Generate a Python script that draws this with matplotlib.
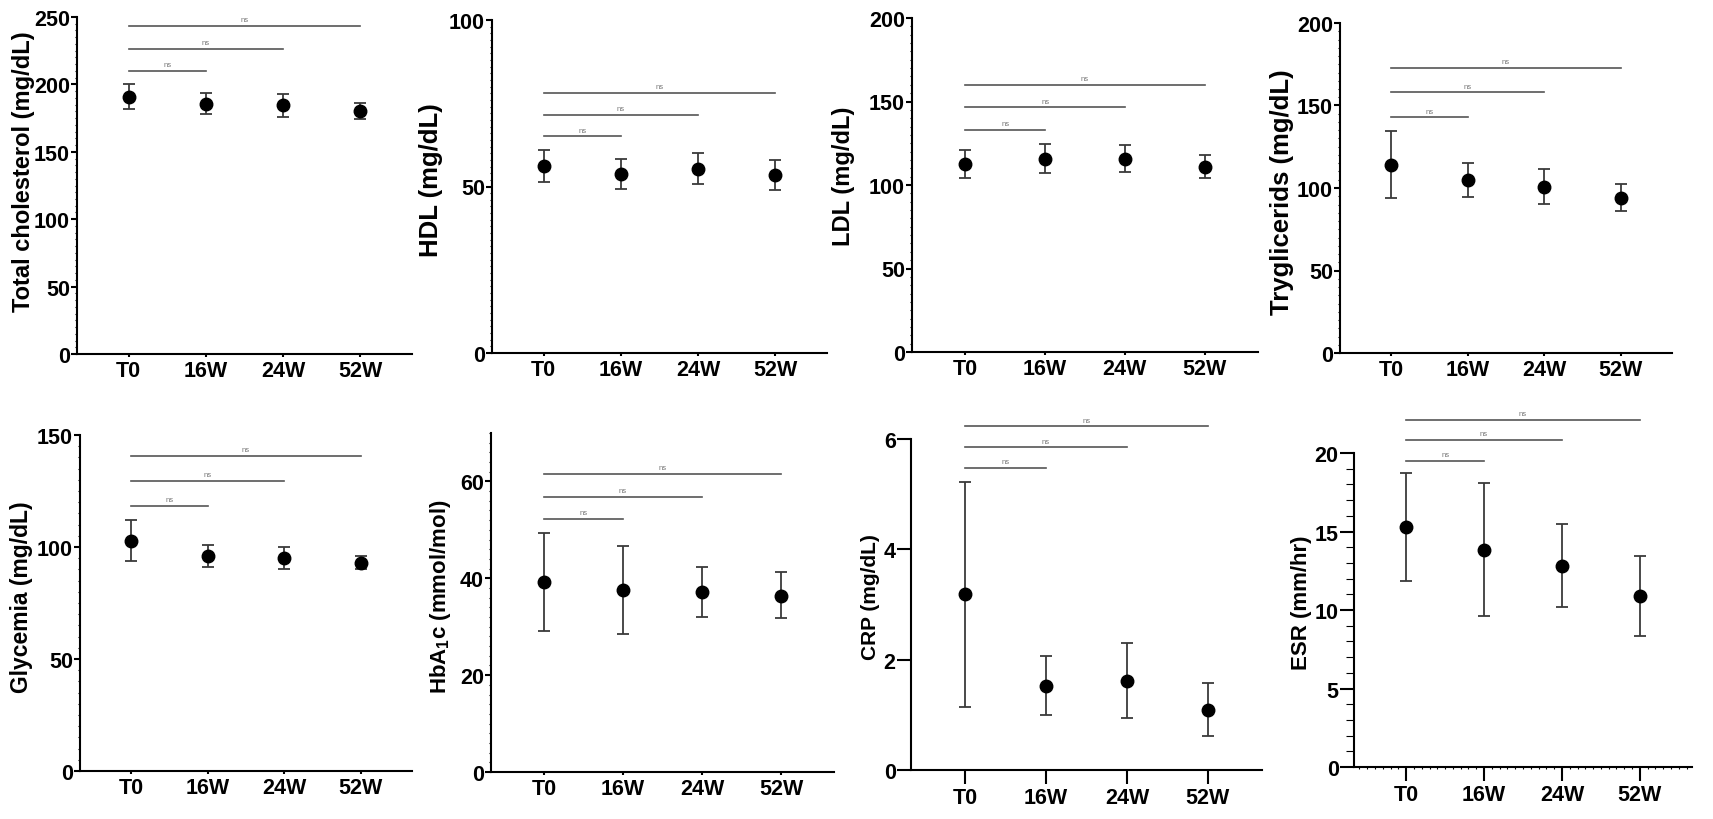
import matplotlib
matplotlib.use("Agg")
from matplotlib import pyplot as plt
import numpy as np

plt.rcParams['font.family'] = ['Liberation Sans', 'DejaVu Sans']
plt.rcParams['font.weight'] = 'bold'
plt.rcParams['mathtext.fontset'] = 'custom'
plt.rcParams['mathtext.bf'] = 'Liberation Sans:bold'
plt.rcParams['mathtext.rm'] = 'Liberation Sans:bold'
plt.rcParams['mathtext.default'] = 'bf'

groups = ['T0', '16W', '24W', '52W']

# mean and whisker ends (lower, upper) per panel, plus heights of the "ns" bars
chol_mean = [191, 185.5, 184.5, 180.5]
chol_lo = [181.7, 178.0, 175.7, 174.3]
chol_hi = [200.2, 193.3, 193.1, 186.4]
chol_ns = [210, 226.5, 243.3]

hdl_mean = [56.2, 53.7, 55.4, 53.5]
hdl_lo = [51.4, 49.2, 50.9, 49.0]
hdl_hi = [61.0, 58.2, 60.1, 58.0]
hdl_ns = [65.1, 71.5, 78.1]

ldl_mean = [112.4, 115.6, 115.4, 111.0]
ldl_lo = [104.2, 107.2, 107.6, 104.0]
ldl_hi = [120.8, 124.8, 124.0, 118.2]
ldl_ns = [133.1, 146.5, 159.9]

tg_mean = [114.1, 104.8, 100.4, 93.9]
tg_lo = [93.9, 94.5, 90.1, 85.9]
tg_hi = [134.3, 115.2, 111.3, 102.6]
tg_ns = [142.8, 158.0, 172.9]

gly_mean = [102.8, 95.9, 95.0, 93.0]
gly_lo = [93.7, 91.2, 90.4, 90.0]
gly_hi = [111.9, 101.0, 100.1, 96.1]
gly_ns = [118.4, 129.6, 140.8]

hba_mean = [39.2, 37.5, 37.2, 36.4]
hba_lo = [29.1, 28.5, 32.0, 31.8]
hba_hi = [49.4, 46.7, 42.4, 41.2]
hba_ns = [52.2, 56.8, 61.5]

crp_mean = [3.19, 1.52, 1.62, 1.09]
crp_lo = [1.15, 1.00, 0.95, 0.62]
crp_hi = [5.23, 2.07, 2.30, 1.58]
crp_ns = [5.47, 5.85, 6.23]

esr_mean = [15.27, 13.84, 12.80, 10.87]
esr_lo = [11.87, 9.62, 10.17, 8.32]
esr_hi = [18.73, 18.09, 15.48, 13.46]
esr_ns = [19.51, 20.83, 22.12]

panels = [
    # label, mean, lo, hi, ns, ylim top, spine top, major, minor,
    # box px (l, r, t, b), label right edge px, label centre y px, label size
    ('Total cholesterol (mg/dL)', chol_mean, chol_lo, chol_hi, chol_ns, 250, 250, 50, 5,
     (77, 412, 18, 355), 35, 172, 17),
    ('HDL (mg/dL)', hdl_mean, hdl_lo, hdl_hi, hdl_ns, 100, 100, 50, 2,
     (492, 827, 21, 354), 443, 180, 18.5),
    ('LDL (mg/dL)', ldl_mean, ldl_lo, ldl_hi, ldl_ns, 200, 200, 50, 5,
     (912, 1258, 19, 353), 855, 176, 17),
    ('Tryglicerids (mg/dL)', tg_mean, tg_lo, tg_hi, tg_ns, 200, 200, 50, 5,
     (1340, 1672, 24, 354), 1294, 192, 18.5),
    ('Glycemia (mg/dL)', gly_mean, gly_lo, gly_hi, gly_ns, 150, 150, 50, 5,
     (80, 412, 436, 772), 33, 597, 16.5),
    ('HbA$_1$c (mmol/mol)', hba_mean, hba_lo, hba_hi, hba_ns, 70, 70, 20, 2,
     (491, 834, 434, 773), 453, 597, 16),
    ('CRP (mg/dL)', crp_mean, crp_lo, crp_hi, crp_ns, 6.4, 6, 2, None,
     (911, 1262, 418, 771), 880, 597, 15),
    ('ESR (mm/hr)', esr_mean, esr_lo, esr_hi, esr_ns, 23, 20, 5, 1,
     (1354, 1692, 407, 768), 1312, 603, 16),
]

W, H = 1713, 820
fig = plt.figure(figsize=(W / 100, H / 100), dpi=100)

x = np.arange(len(groups))

for i, (label, mean, lo, hi, ns, ytop, stop, major, minor, box, lab_r, lab_y, lsize) in enumerate(panels):
    l, r, t, b = box
    ax = fig.add_axes([l / W, 1 - b / H, (r - l) / W, (b - t) / H])
    mean = np.array(mean)
    yerr = [mean - np.array(lo), np.array(hi) - mean]
    ax.errorbar(x, mean, yerr=yerr, fmt='none', ecolor='#3a3a3a', elinewidth=1.3,
                capsize=4, capthick=1.3, zorder=2)
    ax.plot(x, mean, 'o', color='black', ms=9, zorder=3)

    # significance bars from T0 to each later time point
    for k, yv in enumerate(ns):
        ax.plot([0, k + 1], [yv, yv], color='#555555', lw=1.2, clip_on=False)
        ax.text((k + 1) / 2, yv + ytop * 0.008, 'ns', ha='center', va='bottom',
                fontsize=5.5, color='#777777', fontweight='normal')

    ax.spines['top'].set_visible(False)
    ax.spines['right'].set_visible(False)
    ax.spines['left'].set_linewidth(1.5)
    ax.spines['bottom'].set_linewidth(1.5)
    ax.spines['left'].set_bounds(0, stop)
    ax.set_xticks(x)
    ax.set_xticklabels(groups)
    ax.set_yticks(np.arange(0, stop + 1e-9, major))
    big = i >= 6
    if minor:
        ax.set_yticks(np.arange(0, stop + 1e-9, minor), minor=True)
        ax.tick_params(axis='y', which='minor', length=6 if big else 1.5, width=0.8)
    if i == 7:
        ax.set_xticks(np.arange(-0.6, 3.65, 0.1), minor=True)
        ax.tick_params(axis='x', which='minor', length=1.5, width=0.8)
    ax.set_xlim(-0.67, 3.67)
    ax.set_ylim(0, ytop)
    ax.tick_params(axis='x', which='major', length=10 if big else 2, width=1.5,
                   labelsize=15.5, pad=2)
    ax.tick_params(axis='y', which='major', length=10 if big else 4, width=1.5,
                   labelsize=15.5, pad=1)
    for lab in ax.get_xticklabels() + ax.get_yticklabels():
        lab.set_fontweight('bold')
    ax.set_ylabel(label, fontsize=lsize, fontweight='bold')
    ax.yaxis.set_label_coords(-(l - lab_r) / (r - l), (b - lab_y) / (b - t))

fig.savefig('out.png', dpi=100)
